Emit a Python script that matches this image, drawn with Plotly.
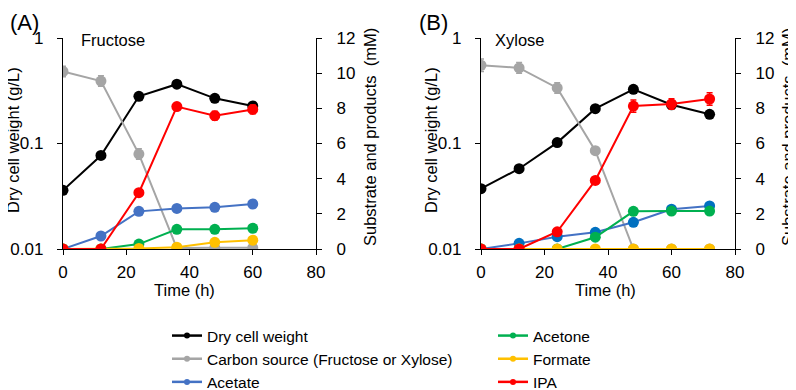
import plotly.graph_objects as go

# ---------------- data ----------------
time_a = [0, 12, 24, 36, 48, 60]
dcw_a = [0.036, 0.077, 0.28, 0.365, 0.268, 0.227]
carbon_a = [10.1, 9.55, 5.4, 0.05, 0.07, 0.07]
carbon_a_err = [0.3, 0.3, 0.3, 0, 0, 0]
acetate_a = [0, 0.74, 2.14, 2.31, 2.37, 2.56]
acetone_a = [0, 0, 0.28, 1.12, 1.12, 1.18]
formate_a = [0, 0, 0.03, 0.1, 0.38, 0.5]
ipa_a = [0, 0, 3.2, 8.1, 7.58, 7.94]
ipa_a_err = [0, 0, 0.1, 0.1, 0.25, 0.25]

time_b = [0, 12, 24, 36, 48, 60, 72]
dcw_b = [0.0373, 0.0577, 0.102, 0.214, 0.326, 0.233, 0.189]
carbon_b = [10.45, 10.3, 9.16, 5.59, 0, 0, 0]
carbon_b_err = [0.35, 0.3, 0.3, 0.2, 0, 0, 0]
acetate_b = [0, 0.32, 0.7, 0.95, 1.52, 2.26, 2.45]
acetone_b = [0, 0, 0, 0.67, 2.14, 2.16, 2.16]
formate_b = [0, 0, 0, 0, 0, 0, 0]
ipa_b = [0, 0, 0.98, 3.9, 8.13, 8.25, 8.53]
ipa_b_err = [0, 0, 0.1, 0.2, 0.35, 0.3, 0.35]

series_names = ["Dry cell weight", "Carbon source (Fructose or Xylose)", "Acetate",
                "Acetone", "Formate", "IPA"]
colors = ["#000000", "#A5A5A5", "#4472C4", "#00B050", "#FFC000", "#FF0000"]

x_ticks = [0, 20, 40, 60, 80]
left_ticks = [0.01, 0.1, 1]
left_tick_text = ["0.01", "0.1", "1"]
right_ticks = [0, 2, 4, 6, 8, 10, 12]

FONT = "Liberation Sans, Arial, sans-serif"
W, H = 796, 390
OFF = 8  # page body margin


def px(xp):
    return (xp - OFF) / W


def py(yp):
    return 1 - (yp - OFF) / H


fig = go.Figure()


def add_panel(t, dcw, carbon, carbon_err, acetate, acetone, formate, ipa, ipa_err,
              xa, yl, yr, acetate_marker):
    fig.add_trace(go.Scatter(x=t, y=dcw, xaxis=xa, yaxis=yl, mode="lines+markers",
                             line=dict(color=colors[0], width=2),
                             marker=dict(color=colors[0], size=11), showlegend=False))
    vals = [(carbon, carbon_err, colors[1], colors[1]),
            (acetate, None, colors[2], acetate_marker),
            (acetone, None, colors[3], colors[3]),
            (formate, None, colors[4], colors[4]),
            (ipa, ipa_err, colors[5], colors[5])]
    for v, err, c, mc in vals:
        kw = {}
        if err is not None:
            kw["error_y"] = dict(type="data", array=err, visible=True, color=c,
                                 thickness=1.5, width=3)
        fig.add_trace(go.Scatter(x=t, y=v, xaxis=xa, yaxis=yr, mode="lines+markers",
                                 line=dict(color=c, width=2),
                                 marker=dict(color=mc, size=11), showlegend=False, **kw))


add_panel(time_a, dcw_a, carbon_a, carbon_a_err, acetate_a, acetone_a, formate_a,
          ipa_a, ipa_a_err, "x", "y", "y2", colors[2])
add_panel(time_b, dcw_b, carbon_b, carbon_b_err, acetate_b, acetone_b, formate_b,
          ipa_b, ipa_b_err, "x2", "y3", "y4", "#0070C0")

# legend entries
for i, (n, c) in enumerate(zip(series_names, colors)):
    fig.add_trace(go.Scatter(x=[None], y=[None], xaxis="x", yaxis="y2",
                             mode="lines+markers", name=n,
                             line=dict(color=c, width=2.5), marker=dict(color=c, size=6),
                             legend="legend" if i < 3 else "legend2"))

ya_dom = [py(249), py(38)]
xa_dom = [px(63), px(316)]
xb_dom = [px(481), px(735)]

axis_common = dict(showline=True, linecolor="black", linewidth=1.3, ticks="outside",
                   ticklen=5, tickcolor="black", tickwidth=1.3, showgrid=False,
                   zeroline=False, automargin=False,
                   tickfont=dict(family=FONT, size=17, color="black"))

xaxis = dict(axis_common, domain=xa_dom, range=[0, 80], tickvals=x_ticks, anchor="y",
             ticklabelstandoff=2)
left = dict(axis_common, domain=ya_dom, type="log", range=[-2, 0], tickvals=left_ticks,
            ticktext=left_tick_text, ticklabelstandoff=10)
right = dict(axis_common, range=[0, 12], tickvals=right_ticks, side="right",
             ticklabelstandoff=11)

tfont = dict(family=FONT, size=16.5, color="black")
annotations = [
    dict(text="(A)", x=px(8), y=py(8), xanchor="left", yanchor="top",
         font=dict(family=FONT, size=22)),
    dict(text="(B)", x=px(417), y=py(8), xanchor="left", yanchor="top",
         font=dict(family=FONT, size=22)),
    dict(text="Fructose", x=px(79), y=py(40), xanchor="left", yanchor="middle",
         font=dict(family=FONT, size=16.5)),
    dict(text="Xylose", x=px(493), y=py(40), xanchor="left", yanchor="middle",
         font=dict(family=FONT, size=16.5)),
]
for xl, xt, xrt in [(63, 184, 370), (481, 605, 788)]:
    annotations.append(dict(text="Time (h)", x=px(xt), y=py(290), xanchor="center",
                            yanchor="middle", font=tfont))
    annotations.append(dict(text="Dry cell weight (g/L)", x=px(xl - 50), y=py(140),
                            xanchor="center", yanchor="middle", textangle=-90, font=tfont))
    annotations.append(dict(text="Substrate and products  (mM)", x=px(xrt), y=py(137),
                            xanchor="center", yanchor="middle", textangle=-90, font=tfont))
for a in annotations:
    a.update(xref="paper", yref="paper", showarrow=False)

fig.update_layout(
    width=W, height=H, autosize=False,
    margin=dict(l=0, r=0, t=0, b=0, autoexpand=False),
    paper_bgcolor="white", plot_bgcolor="rgba(0,0,0,0)",
    font=dict(family=FONT, color="black"),
    xaxis=dict(xaxis),
    yaxis=dict(left, anchor="x"),
    yaxis2=dict(right, anchor="x", overlaying="y"),
    xaxis2=dict(xaxis, domain=xb_dom, anchor="y3"),
    yaxis3=dict(left, anchor="x2"),
    yaxis4=dict(right, anchor="x2", overlaying="y3"),
    legend=dict(x=px(167), y=py(319), xanchor="left", yanchor="top",
                font=dict(family=FONT, size=15.5, color="black"), itemwidth=30,
                bgcolor="rgba(0,0,0,0)", tracegroupgap=0),
    legend2=dict(x=px(493), y=py(319), xanchor="left", yanchor="top",
                 font=dict(family=FONT, size=15.5, color="black"), itemwidth=30,
                 bgcolor="rgba(0,0,0,0)", tracegroupgap=0),
    annotations=annotations,
)

fig.write_html("out.html")
